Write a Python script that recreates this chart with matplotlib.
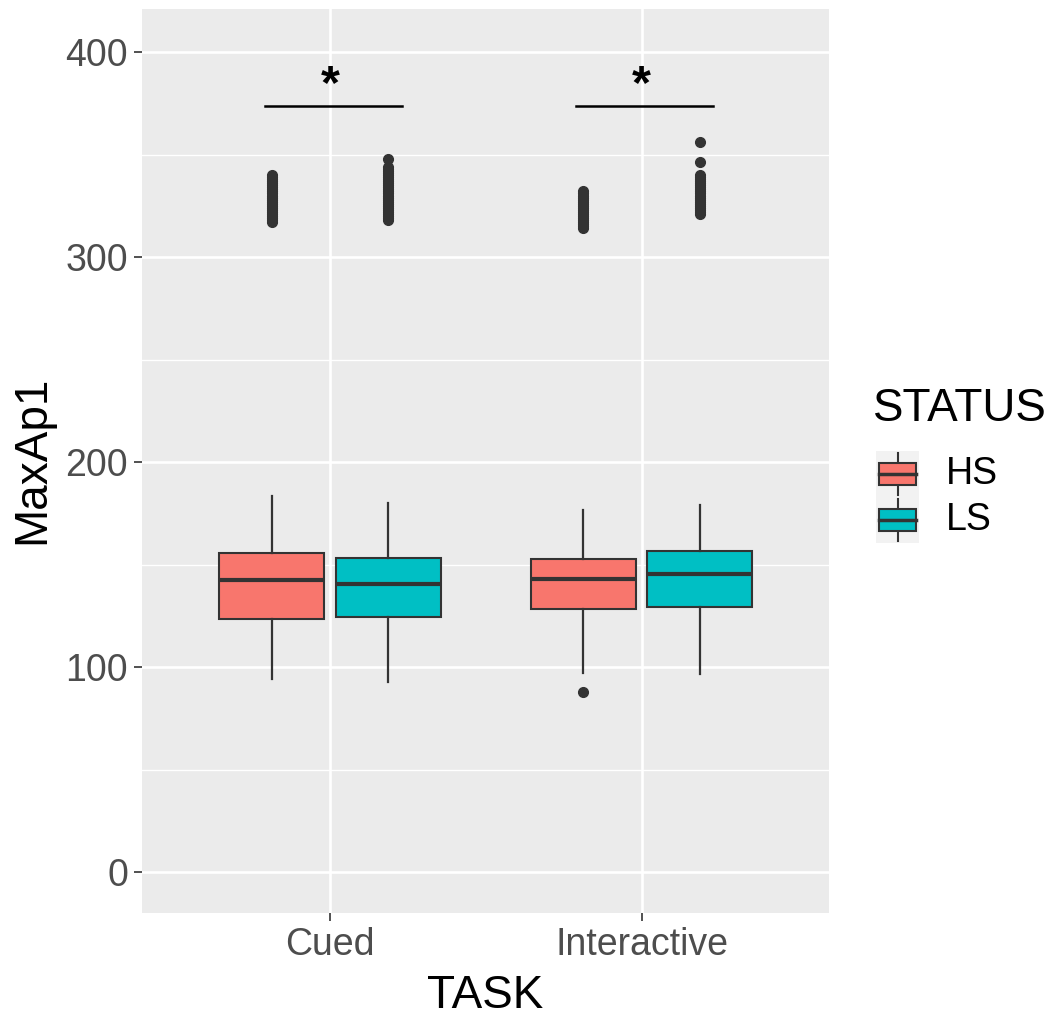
import numpy as np
import matplotlib
matplotlib.use("Agg")
import matplotlib.pyplot as plt
from matplotlib.patches import Rectangle

plt.rcParams["font.family"] = ["Liberation Sans", "DejaVu Sans"]

# 数据: 箱线图统计量
tasks = ["Cued", "Interactive"]
status = ["HS", "LS"]
colors = {"HS": "#F8766D", "LS": "#00BFC4"}

whislo = {"HS": [94, 97], "LS": [92.5, 96.5]}
q1 = {"HS": [123.5, 128.5], "LS": [124.5, 129.5]}
med = {"HS": [142.5, 143], "LS": [140.5, 145.5]}
q3 = {"HS": [155.7, 152.8], "LS": [153.3, 156.7]}
whishi = {"HS": [183.5, 176.5], "LS": [180, 179]}

fliers = {
    "HS": [
        [317, 318, 319, 320, 321, 322, 323, 324, 325, 326, 327, 328,
         329, 330, 331, 332, 333, 334, 335, 336, 337, 338, 339, 340],
        [88, 314, 315, 316, 317, 318, 319, 320, 321, 322, 323, 324,
         325, 326, 327, 328, 329, 330, 331, 332],
    ],
    "LS": [
        [318, 319, 320, 321, 322, 323, 324, 325, 326, 327, 328, 329,
         330, 331, 332, 333, 334, 335, 336, 337, 338, 339, 340, 341,
         342, 343, 344, 348],
        [321, 322, 323, 324, 325, 326, 327, 328, 329, 330, 331, 332,
         333, 334, 335, 336, 337, 338, 339, 340, 346.5, 356],
    ],
}

sig_y = 373.7
sig_labels = ["*", "*"]

W, H = 1062, 1017
fig = plt.figure(figsize=(W / 100, H / 100), dpi=100)
ax = fig.add_axes([142 / W, (H - 913) / H, 687 / W, 904 / H])
ax.set_facecolor("#EBEBEB")
for s in ax.spines.values():
    s.set_visible(False)

ax.set_xlim(0.396, 2.602)
ax.set_ylim(-20, 421)
ax.set_yticks([0, 100, 200, 300, 400])
ax.set_yticks([50, 150, 250, 350], minor=True)
ax.set_xticks([1, 2])
ax.set_xticklabels(tasks)
ax.grid(True, which="major", color="white", lw=1.9)
ax.grid(True, which="minor", axis="y", color="white", lw=1.0)
ax.set_axisbelow(True)
ax.tick_params(axis="both", which="major", length=6, width=1.2, color="#333333",
               labelcolor="#4D4D4D", labelsize=27, pad=4)
ax.tick_params(axis="y", which="minor", length=0)

offset = {"HS": -0.1875, "LS": 0.1875}
for st in status:
    stats = []
    for i in range(len(tasks)):
        stats.append(dict(med=med[st][i], q1=q1[st][i], q3=q3[st][i],
                          whislo=whislo[st][i], whishi=whishi[st][i],
                          fliers=fliers[st][i]))
    pos = [i + 1 + offset[st] for i in range(len(tasks))]
    ax.bxp(stats, positions=pos, widths=0.3375, patch_artist=True,
           showcaps=False, manage_ticks=False,
           boxprops=dict(facecolor=colors[st], edgecolor="#333333", lw=1.5),
           medianprops=dict(color="#333333", lw=3.0, solid_capstyle="butt"),
           whiskerprops=dict(color="#333333", lw=1.6),
           flierprops=dict(marker="o", markersize=7, markerfacecolor="#333333",
                           markeredgecolor="#333333", linestyle="none"))

# 显著性标记
for i, lab in enumerate(sig_labels):
    x = i + 1
    ax.plot([x - 0.21, x + 0.23], [sig_y, sig_y], color="black", lw=1.8)
    ax.text(x, sig_y - 1, lab, ha="center", va="bottom", fontsize=35,
            fontweight="bold", color="black")

ax.set_xlabel("TASK", fontsize=33, color="black")
ax.xaxis.set_label_coords(0.5, -0.068)
fig.text(32 / W, 1 - 460 / H, "MaxAp1", rotation=90, ha="center",
         va="center", fontsize=33, color="black")

# 图例 (像素坐标)
lg = fig.add_axes([0, 0, 1, 1], facecolor="none")
lg.set_xlim(0, W)
lg.set_ylim(H, 0)
lg.axis("off")
lg.text(873, 409, "STATUS", fontsize=33, ha="left", va="center", color="black")
for k, st in enumerate(status):
    y0 = 451 + 46 * k
    lg.add_patch(Rectangle((876, y0), 43, 46, facecolor="#F2F2F2",
                           edgecolor="none", zorder=1))
    lg.plot([897.5, 897.5], [y0 + 2, y0 + 44], color="#333333", lw=1.5, zorder=2)
    lg.add_patch(Rectangle((879, y0 + 12), 37, 22, facecolor=colors[st],
                           edgecolor="#333333", lw=1.5, zorder=3))
    lg.plot([879, 916], [y0 + 23, y0 + 23], color="#333333", lw=2.5, zorder=4)
    lg.text(946, y0 + 23, st, fontsize=27, ha="left", va="center", color="black")

fig.savefig("out.png", dpi=100)
